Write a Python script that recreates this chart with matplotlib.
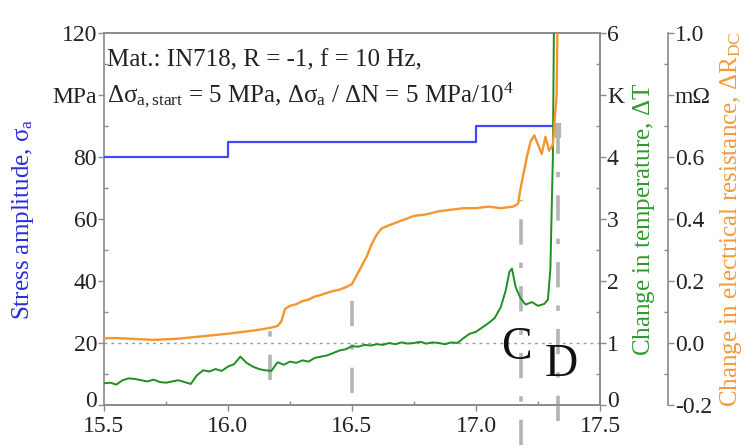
import matplotlib
matplotlib.use("Agg")
import matplotlib.pyplot as plt
import matplotlib.transforms as mtransforms
from matplotlib.ticker import MultipleLocator, FixedLocator, FixedFormatter

plt.rcParams['font.family'] = ['Liberation Serif', 'DejaVu Serif']
plt.rcParams['mathtext.fontset'] = 'custom'
plt.rcParams['mathtext.rm'] = 'Liberation Serif'
plt.rcParams['mathtext.it'] = 'Liberation Serif'

# ---- data ----
stress_x = [15.5, 16.0, 16.0, 17.0, 17.0, 17.33]
stress_y = [80, 80, 85, 85, 90, 90]

temp_x = [15.500, 15.525, 15.550, 15.575, 15.600, 15.625, 15.650, 15.675, 15.700, 15.725,
          15.750, 15.775, 15.800, 15.825, 15.850, 15.875, 15.900, 15.925, 15.950, 15.975,
          16.000, 16.025, 16.050, 16.075, 16.100, 16.125, 16.150, 16.175, 16.200, 16.225,
          16.250, 16.275, 16.300, 16.325, 16.350, 16.375, 16.400, 16.425, 16.450, 16.475,
          16.500, 16.525, 16.550, 16.575, 16.600, 16.625, 16.650, 16.675, 16.700, 16.725,
          16.750, 16.775, 16.800, 16.825, 16.850, 16.875, 16.900, 16.925, 16.950, 16.975,
          17.000, 17.025, 17.050, 17.075, 17.100, 17.120, 17.135, 17.145, 17.160, 17.180,
          17.200, 17.225, 17.250, 17.275, 17.290, 17.300, 17.310, 17.315]
temp_y = [0.35, 0.36, 0.33, 0.40, 0.43, 0.42, 0.40, 0.38, 0.41, 0.37,
          0.36, 0.38, 0.40, 0.37, 0.34, 0.48, 0.56, 0.54, 0.58, 0.55,
          0.62, 0.66, 0.78, 0.68, 0.62, 0.58, 0.56, 0.55, 0.69, 0.65,
          0.70, 0.68, 0.72, 0.70, 0.76, 0.78, 0.80, 0.84, 0.88, 0.90,
          0.95, 0.94, 0.97, 0.96, 0.98, 0.97, 1.00, 0.98, 1.01, 0.99,
          1.00, 1.02, 0.99, 1.01, 1.00, 0.98, 1.01, 1.00, 1.08, 1.15,
          1.18, 1.25, 1.32, 1.40, 1.58, 1.85, 2.15, 2.20, 1.90, 1.72,
          1.62, 1.66, 1.60, 1.63, 1.70, 2.20, 4.00, 6.50]

res_x = [15.500, 15.550, 15.600, 15.650, 15.700, 15.750, 15.800, 15.850, 15.900, 15.950,
         16.000, 16.050, 16.100, 16.150, 16.175, 16.200, 16.215, 16.230, 16.250, 16.275,
         16.300, 16.325, 16.350, 16.375, 16.400, 16.425, 16.450, 16.475, 16.500, 16.520,
         16.540, 16.560, 16.580, 16.600, 16.620, 16.650, 16.700, 16.750, 16.800, 16.850,
         16.900, 16.950, 17.000, 17.050, 17.100, 17.150, 17.170, 17.180, 17.190, 17.205,
         17.220, 17.235, 17.250, 17.265, 17.280, 17.295, 17.310, 17.325, 17.330]
res_y = [0.015, 0.016, 0.014, 0.012, 0.010, 0.012, 0.014, 0.018, 0.022, 0.026,
         0.030, 0.035, 0.040, 0.046, 0.050, 0.055, 0.070, 0.110, 0.120, 0.125,
         0.135, 0.140, 0.150, 0.155, 0.162, 0.168, 0.172, 0.180, 0.190, 0.220,
         0.250, 0.280, 0.320, 0.350, 0.370, 0.380, 0.395, 0.410, 0.415, 0.425,
         0.430, 0.435, 0.435, 0.440, 0.435, 0.440, 0.450, 0.500, 0.540, 0.600,
         0.650, 0.670, 0.640, 0.610, 0.665, 0.620, 0.640, 0.800, 1.100]

# event markers (x position, y range in stress-axis units)
marker_x = [16.17, 16.5, 17.18, 17.33]
marker_ylo = [8, 4, -13, -5]
marker_yhi = [28, 38, 66, 87]

xticks = [15.5, 16.0, 16.5, 17.0, 17.5]
left_ticks = [0, 20, 40, 60, 80, 100, 120]
left_labels = ['0', '20', '40', '60', '80', 'MPa', '120']
k_ticks = [0, 1, 2, 3, 4, 5, 6]
k_labels = ['0', '1', '2', '3', '4', 'K', '6']
r_ticks = [-0.2, 0.0, 0.2, 0.4, 0.6, 0.8, 1.0]
r_labels = ['-0.2', '0.0', '0.2', '0.4', '0.6', 'm\u03a9', '1.0']

BLUE = '#4646ff'
BLUE_T = '#2a2ae0'
GREEN = '#1f8f1f'
GREEN_T = '#2e9a2e'
ORANGE = '#f5952f'
ORANGE_T = '#f39a3c'
GRAY = '#b4b4b4'
SPINE = '#8a8a8a'
TXT = '#222222'

fig = plt.figure(figsize=(7.55, 4.46), dpi=100)
ax = fig.add_axes([0.1377, 0.0919, 0.6570, 0.8341])
ax2 = ax.twinx()
ax3 = ax.twinx()
ax3.spines['right'].set_position(('axes', 1.137))

FS = 17

# horizontal dotted reference
ax.axhline(20, color='#999999', lw=1.0, ls=(0, (2, 3)), zorder=1)

ax.plot(stress_x, stress_y, color=BLUE, lw=1.6, zorder=3)
ax2.plot(temp_x, temp_y, color=GREEN, lw=1.4, zorder=3)
ax3.plot(res_x, res_y, color=ORANGE, lw=1.7, zorder=3)

for mx, lo, hi in zip(marker_x, marker_ylo, marker_yhi):
    ax.plot([mx, mx], [lo, hi], color=GRAY, lw=2.6, ls=(0, (7, 5, 1.5, 5)),
            clip_on=False, zorder=4, solid_capstyle='butt')
ax.plot([17.33, 17.33], [86, 91], color=GRAY, lw=4.5, zorder=4, solid_capstyle='butt')

ax.set_xlim(15.5, 17.5)
ax.set_ylim(0, 120)
ax2.set_ylim(0, 6)
ax3.set_ylim(-0.2, 1.0)

ax.set_xticks(xticks)
ax.set_xticklabels([f'{t:.1f}' for t in xticks])
ax.xaxis.set_minor_locator(MultipleLocator(0.25))
ax.yaxis.set_major_locator(FixedLocator(left_ticks))
ax.yaxis.set_major_formatter(FixedFormatter(left_labels))
ax.yaxis.set_minor_locator(MultipleLocator(10))
ax2.yaxis.set_major_locator(FixedLocator(k_ticks))
ax2.yaxis.set_major_formatter(FixedFormatter(k_labels))
ax2.yaxis.set_minor_locator(MultipleLocator(0.5))
ax3.yaxis.set_major_locator(FixedLocator(r_ticks))
ax3.yaxis.set_major_formatter(FixedFormatter(r_labels))
ax3.yaxis.set_minor_locator(MultipleLocator(0.1))

for a in (ax, ax2, ax3):
    for s in a.spines.values():
        s.set_color(SPINE)
        s.set_linewidth(1.2)
    a.tick_params(which='major', direction='out', length=4, width=1, color=SPINE,
                  labelsize=FS, labelcolor=TXT, pad=1)
    a.tick_params(which='minor', direction='in', length=3, width=1, color=SPINE)
ax.tick_params(axis='x', which='major', pad=4)
ax3.spines['top'].set_visible(False)
ax3.spines['bottom'].set_visible(False)
ax3.spines['left'].set_visible(False)
ax2.spines['left'].set_visible(False)

ax.set_ylabel(r'Stress amplitude, $\sigma_\mathrm{a}$', color=BLUE_T, fontsize=18, labelpad=12)
ax2.set_ylabel(r'Change in temperature, $\Delta$T', color=GREEN_T, fontsize=18, labelpad=5)
ax3.set_ylabel(r'Change in electrical resistance, $\Delta$R$_\mathrm{DC}$', color=ORANGE_T,
               fontsize=18, labelpad=4)

ax.text(15.513, 111, 'Mat.: IN718, R = -1, f = 10 Hz,', fontsize=18, color=TXT,
        va='center', ha='left', zorder=5)
ax.text(15.513, 100, r'$\Delta\sigma_\mathrm{a,start}$ = 5 MPa, $\Delta\sigma_\mathrm{a}$ / $\Delta$N = 5 MPa/10$^4$',
        fontsize=18, color=TXT, va='center', ha='left', zorder=5)

ax.text(17.165, 18.4, 'C', fontsize=33, color='#111111', ha='center', va='center', zorder=5)
ax.text(17.343, 12.9, 'D', fontsize=33, color='#111111', ha='center', va='center', zorder=5)

# nudge the two bottom "0" labels up a little so they do not collide with x labels
fig.canvas.draw()
shift = mtransforms.ScaledTranslation(0, 4 / 72, fig.dpi_scale_trans)
for a in (ax, ax2):
    lab = a.yaxis.get_major_ticks()[0]
    lab.label1.set_transform(lab.label1.get_transform() + shift)
    lab.label2.set_transform(lab.label2.get_transform() + shift)

fig.savefig('out.png', dpi=100)
